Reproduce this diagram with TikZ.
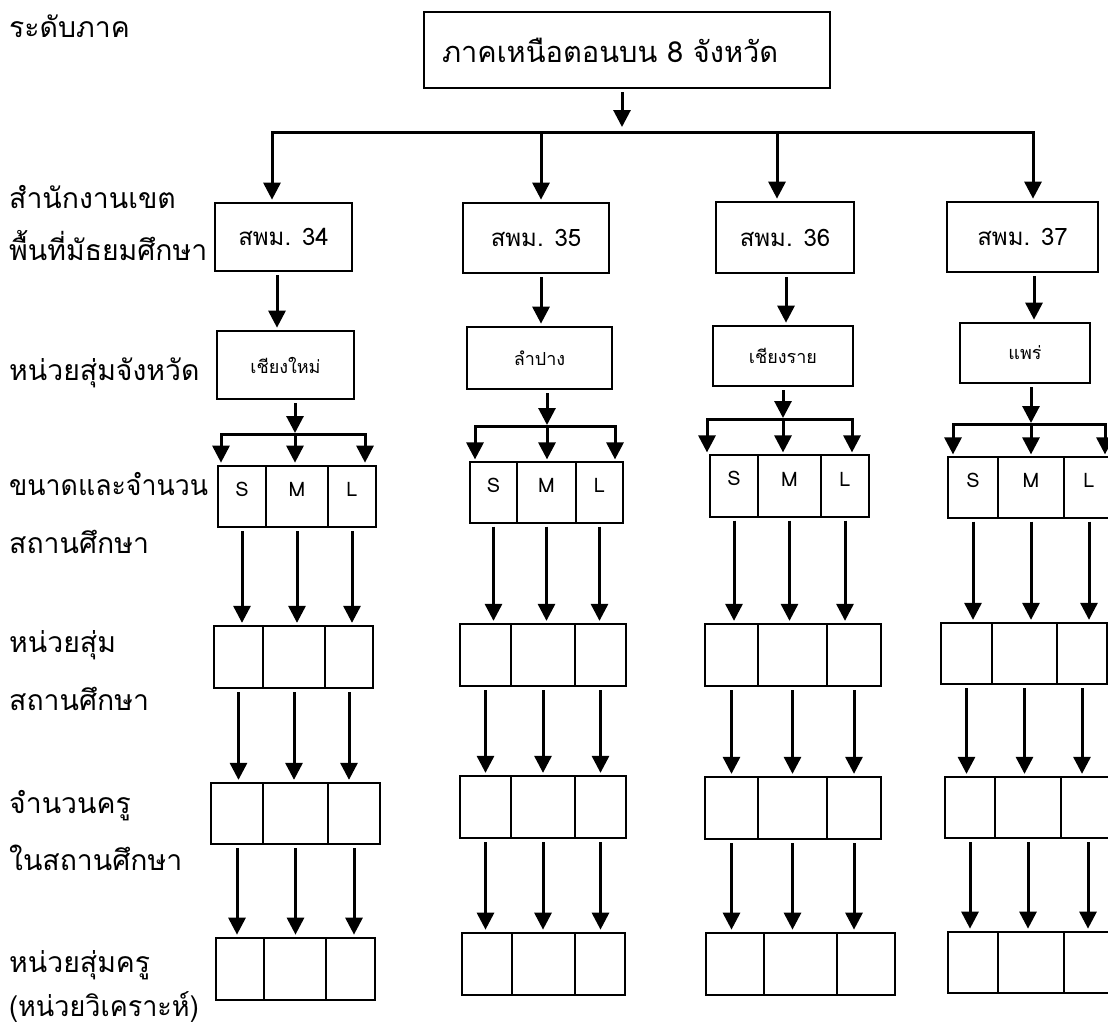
\documentclass[tikz,border=0pt]{standalone}
\usepackage{fontspec}
\usepackage{graphicx}
\newfontfamily\thaifont[Script=Thai]{Loma}
\usetikzlibrary{arrows.meta,fit}
\newcommand\mylblfont{\thaifont\fontsize{28.4}{32}\selectfont}
\newcommand\mytopfont{\thaifont\fontsize{29}{34}\selectfont}
\newcommand\myboxfont{\thaifont\fontsize{24}{28}\selectfont}
\newcommand\myprovfont{\thaifont\fontsize{18}{21}\selectfont}
\newcommand\mysmlfont{\thaifont\fontsize{20}{24}\selectfont}
% row of three cells: name, x1,x2,x3,x4, ytop, ybot, style
\newcommand\mkrow[8]{%
  \node[#8, fit={(#2,#6)(#3,#7)}] (#1a) {};
  \node[#8, fit={(#3,#6)(#4,#7)}] (#1b) {};
  \node[#8, fit={(#4,#6)(#5,#7)}] (#1c) {};}
\newcommand\mksml[8]{%
  \node[#8, sml, fit={(#2,#6)(#3,#7)}] (#1a) {S};
  \node[#8, sml, fit={(#3,#6)(#4,#7)}] (#1b) {M};
  \node[#8, sml, fit={(#4,#6)(#5,#7)}] (#1c) {L};}
\newcommand\darr[2]{%
  \foreach \k in {a,b,c}{\draw[arr] (#1\k.south) -- (#1\k.south |- #2\k.north);}}
\begin{document}
\begin{tikzpicture}[x=1pt,y=-1pt,
  box/.style={draw,line width=2.7pt,inner sep=0pt},
  thinbox/.style={draw,line width=1.2pt,inner sep=0pt},
  medbox/.style={draw,line width=2.3pt,inner sep=0pt},
  sml/.style={font=\mysmlfont,text height=14pt,text depth=0pt},
  arr/.style={line width=3pt,-{Triangle[length=17pt,width=17pt]},shorten <=3pt,shorten >=2pt},
  ln/.style={line width=3pt,line cap=rect},
  lbl/.style={anchor=base west,inner sep=0pt,font=\mylblfont}]
\useasboundingbox (0,0) rectangle (1108,1028);
\clip (0,0) rectangle (1108,1028);
% left labels
\node[lbl] (l1) at (9,37) {ระดับภาค};
\node[lbl] (l2) at (9,208) {สำนักงานเขต};
\node[lbl] (l3) at (9,260) {พื้นที่มัธยมศึกษา};
\node[lbl] (l4) at (9,380) {หน่วยสุ่มจังหวัด};
\node[lbl] (l5) at (9,495) {\scalebox{0.94}[1]{ขนาดและจำนวน}};
\node[lbl] (l6) at (9,553) {สถานศึกษา};
\node[lbl] (l7) at (9,652) {หน่วยสุ่ม};
\node[lbl] (l8) at (9,710) {สถานศึกษา};
\node[lbl] (l9) at (9,813) {จำนวนครู};
\node[lbl] (l10) at (9,870) {ในสถานศึกษา};
\node[lbl] (l11) at (9,972) {หน่วยสุ่มครู};
\node[lbl] (l12) at (9,1016) {\scalebox{0.95}[1]{(หน่วยวิเคราะห์)}};
% top box
\node[box, minimum height=76pt, text width=370pt, inner xsep=18pt, align=left, font=\mytopfont] (top) at (627,50) {ภาคเหนือตอนบน 8 จังหวัด};
\coordinate (j0) at (622,132);
\coordinate (t1) at (272,132);
\coordinate (t2) at (541,132);
\coordinate (t3) at (777,132);
\coordinate (t4) at (1033,132);
% area boxes
\node[box, minimum width=137pt, minimum height=68pt, font=\myboxfont] (A1) at (283.5,237) {สพม. 34};
\node[box, minimum width=146pt, minimum height=70pt, font=\myboxfont] (A2) at (536,238) {สพม. 35};
\node[box, minimum width=138pt, minimum height=71pt, font=\myboxfont] (A3) at (785,237.5) {สพม. 36};
\node[box, minimum width=151pt, minimum height=70pt, font=\myboxfont] (A4) at (1022.5,237) {สพม. 37};
\draw[arr, shorten >=5pt] (top.south -| j0) -- (j0);
\draw[ln] (t1) -- (t4);
\foreach \i in {1,2,3,4}{\draw[arr, shorten <=0pt] (t\i) -- (t\i |- A\i.north);}
% province boxes
\node[box, minimum width=137pt, minimum height=68pt, font=\myprovfont] (P1) at (285.5,365) {เชียงใหม่};
\node[box, minimum width=145pt, minimum height=62pt, font=\myprovfont] (P2) at (539.5,358) {ลำปาง};
\node[box, minimum width=140pt, minimum height=60pt, font=\myprovfont] (P3) at (783,356) {เชียงราย};
\node[box, minimum width=130pt, minimum height=60pt, font=\myprovfont] (P4) at (1025,353) {แพร่};
\coordinate (a1) at (277,0);
\coordinate (a2) at (541,0);
\coordinate (a3) at (786,0);
\coordinate (a4) at (1034,0);
\foreach \i in {1,2,3,4}{\draw[arr] (A\i.south -| a\i) -- (P\i.north -| a\i);}
% branch coordinates
\coordinate (hm1) at (295,434); \coordinate (hl1) at (221,434); \coordinate (hr1) at (365,434);
\coordinate (hm2) at (547,426); \coordinate (hl2) at (475,426); \coordinate (hr2) at (615,426);
\coordinate (hm3) at (783,419); \coordinate (hl3) at (707,419); \coordinate (hr3) at (852,419);
\coordinate (hm4) at (1031,424); \coordinate (hl4) at (953,424); \coordinate (hr4) at (1105,424);
% column 1
\mksml{c1r4}{218}{266}{328}{376}{466}{527}{box}
\mkrow{c1r5}{214}{263}{325}{373}{626}{688}{medbox}
\mkrow{c1r6}{211}{263}{328}{380}{783}{844}{medbox}
\mkrow{c1r7}{216}{264}{326}{375}{938}{1000}{box}
% column 2
\mksml{c2r4}{470}{517}{576}{623}{462}{523}{thinbox}
\mkrow{c2r5}{460}{511}{575}{626}{624}{686}{medbox}
\mkrow{c2r6}{460}{511}{575}{626}{776}{838}{medbox}
\mkrow{c2r7}{462}{512}{575}{625}{933}{995}{box}
% column 3
\mksml{c3r4}{710}{758}{821}{869}{455}{517}{thinbox}
\mkrow{c3r5}{705}{758}{827}{881}{624}{686}{medbox}
\mkrow{c3r6}{705}{758}{827}{881}{777}{839}{medbox}
\mkrow{c3r7}{706}{764}{837}{895}{933}{995}{box}
% column 4
\mksml{c4r4}{948}{998}{1064}{1114}{457}{518}{thinbox}
\mkrow{c4r5}{941}{992}{1057}{1107}{623}{684}{medbox}
\mkrow{c4r6}{945}{995}{1061}{1115}{777}{838}{medbox}
\mkrow{c4r7}{948}{998}{1064}{1115}{932}{993}{box}
% branches
\foreach \i in {1,2,3,4}{
  \draw[arr, shorten >=1pt] (P\i.south -| hm\i) -- (hm\i);
  \draw[ln] (hl\i) -- (hr\i);
  \draw[arr, shorten <=0pt] (hl\i) -- (hl\i |- c\i r4a.north);
  \draw[arr, shorten <=0pt] (hm\i) -- (hm\i |- c\i r4b.north);
  \draw[arr, shorten <=0pt] (hr\i) -- (hr\i |- c\i r4c.north);
}
% row arrows
\foreach \i in {1,2,3,4}{
  \darr{c\i r4}{c\i r5}
  \darr{c\i r5}{c\i r6}
  \darr{c\i r6}{c\i r7}
}
\end{tikzpicture}
\end{document}
